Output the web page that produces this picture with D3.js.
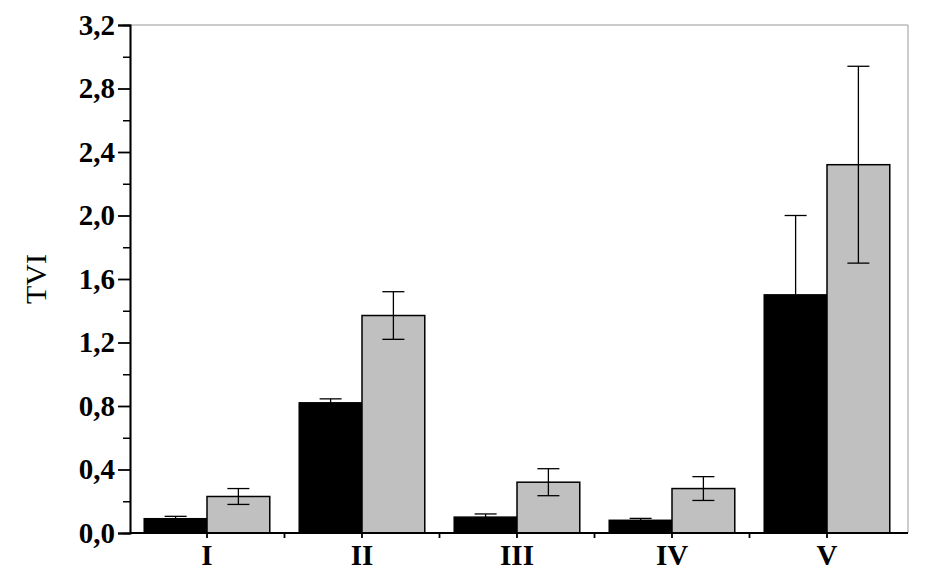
<!DOCTYPE html><html><head><meta charset="utf-8"><script src="https://cdn.jsdelivr.net/npm/d3@7"></script>
<style>body{margin:0;background:#fff}</style></head><body><svg id="c" width="941" height="578"></svg><script>
const categories=["I","II","III","IV","V"];
const blackVals=[0.09,0.82,0.10,0.08,1.50];
const blackErr=[0.015,0.025,0.02,0.012,0.50];
const grayVals=[0.23,1.37,0.32,0.28,2.32];
const grayErr=[0.05,0.15,0.085,0.075,0.62];
const yTicks=[0,0.4,0.8,1.2,1.6,2.0,2.4,2.8,3.2];
const svg=d3.select("#c");
const L=130,R=908,T=25,B=533;
const y=d3.scaleLinear().domain([0,3.2]).range([B,T]);
const x=d3.scaleBand().domain(categories).range([129.5,904.5]).paddingInner(0.19).paddingOuter(0.095);
const bw=x.bandwidth()/2;
const font="'Liberation Serif','Times New Roman',serif";
svg.append("path").attr("d",`M${L},${T}H${R}V${B}`).attr("fill","none").attr("stroke","#999").attr("stroke-width",1);
function bars(vals,errs,off,fill){
 categories.forEach((c,i)=>{
  const x0=x(c)+off;
  svg.append("rect").attr("x",x0).attr("y",y(vals[i])).attr("width",bw).attr("height",B-y(vals[i])).attr("fill",fill).attr("stroke","#000").attr("stroke-width",1.5);
  const cx=x0+bw/2,hi=y(vals[i]+errs[i]),lo=y(vals[i]-errs[i]);
  const g=svg.append("g").attr("stroke","#000").attr("stroke-width",1.3);
  g.append("line").attr("x1",cx).attr("x2",cx).attr("y1",hi).attr("y2",lo);
  g.append("line").attr("x1",cx-11).attr("x2",cx+11).attr("y1",hi).attr("y2",hi);
  g.append("line").attr("x1",cx-11).attr("x2",cx+11).attr("y1",lo).attr("y2",lo);
 });
}
bars(blackVals,blackErr,0,"#000");
bars(grayVals,grayErr,bw,"#c0c0c0");
const ya=svg.append("g").attr("transform",`translate(${L},0)`).call(d3.axisLeft(y).tickValues(yTicks).tickFormat(d=>d3.format(".1f")(d).replace(".",",")).tickSize(12).tickPadding(3));
ya.selectAll("text").style("font-family",font).style("font-weight","bold").style("font-size","29px").attr("fill","#000");
ya.selectAll("line,path").attr("stroke","#000").attr("stroke-width",1.8);
svg.append("g").attr("transform",`translate(${L},0)`).call(d3.axisLeft(y).tickValues(d3.range(0.2,3.2,0.4)).tickFormat("").tickSize(7)).selectAll("line,path").attr("stroke","#000").attr("stroke-width",1.5);
const xa=svg.append("g").attr("transform",`translate(0,${B})`).call(d3.axisBottom(x).tickSize(5).tickPadding(6).tickSizeOuter(0));
xa.select("path").attr("d",`M${L},0H${R}`);
xa.selectAll("line,path").attr("stroke","#000").attr("stroke-width",1.8);
xa.selectAll("text").style("font-family",font).style("font-weight","bold").style("font-size","29px").attr("fill","#000");
const minorX=categories.slice(0,4).map(d=>x(d)+x.bandwidth()+x.step()*x.paddingInner()/2);
svg.append("g").selectAll("line").data(minorX).join("line")
 .attr("x1",d=>d).attr("x2",d=>d).attr("y1",B).attr("y2",B+5).attr("stroke","#000").attr("stroke-width",1.8);
svg.append("text").attr("transform","translate(46,279) rotate(-90)").attr("text-anchor","middle").style("font-family",font).style("font-size","30px").text("TVI");
</script></body></html>
